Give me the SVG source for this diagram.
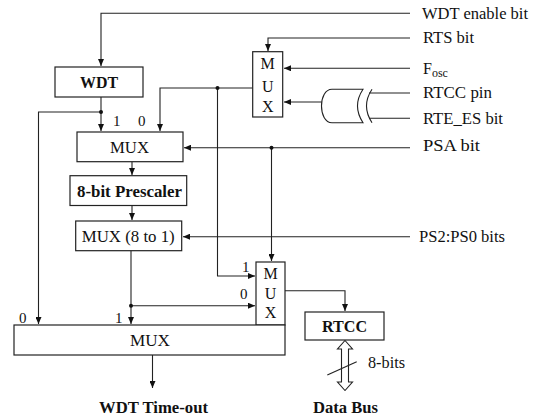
<svg xmlns="http://www.w3.org/2000/svg" width="535" height="416" viewBox="0 0 535 416">
<style>
  text { font-family: "Liberation Serif", "Times New Roman", serif; font-size: 16px; fill: #111; }
  .b { font-weight: bold; }
  .s { font-size: 15px; }
  .m { text-anchor: middle; }
  .box { fill: #fff; stroke: #222; stroke-width: 1.2; }
  .w { fill: none; stroke: #222; stroke-width: 1.1; }
  .dot { fill: #111; }
</style>
<defs>
  <marker id="ah" markerWidth="8" markerHeight="6" refX="7" refY="3" orient="auto" markerUnits="userSpaceOnUse">
    <path d="M0,0 L7,3 L0,6 Z" fill="#111"/>
  </marker>
</defs>
<rect width="535" height="416" fill="#fff"/>

<g id="connectors">
  <polyline class="w" points="410,13.3 101,13.3 101,66" marker-end="url(#ah)"/>
  <polyline class="w" points="101,97 101,131" marker-end="url(#ah)"/>
  <polyline class="w" points="101,112 38.5,112 38.5,324" marker-end="url(#ah)"/>
  <polyline class="w" points="252.7,88 160,88 160,131" marker-end="url(#ah)"/>
  <polyline class="w" points="217.5,88 217.5,276 255,276" marker-end="url(#ah)"/>
  <polyline class="w" points="410,147.7 184,147.7" marker-end="url(#ah)"/>
  <polyline class="w" points="271.5,147.7 271.5,261" marker-end="url(#ah)"/>
  <polyline class="w" points="410,38 268,38 268,51" marker-end="url(#ah)"/>
  <polyline class="w" points="410,68.3 284,68.3" marker-end="url(#ah)"/>
  <polyline class="w" points="321.7,102 284,102" marker-end="url(#ah)"/>
  <line class="w" x1="369" y1="93" x2="410" y2="93"/>
  <line class="w" x1="369" y1="118.3" x2="410" y2="118.3"/>
  <polyline class="w" points="132,161.7 132,175" marker-end="url(#ah)"/>
  <polyline class="w" points="132,205.5 132,220" marker-end="url(#ah)"/>
  <polyline class="w" points="410,236.7 183,236.7" marker-end="url(#ah)"/>
  <polyline class="w" points="131,250.7 131,324" marker-end="url(#ah)"/>
  <polyline class="w" points="131,305.7 255,305.7" marker-end="url(#ah)"/>
  <polyline class="w" points="285,290.7 345,290.7 345,311" marker-end="url(#ah)"/>
  <polyline class="w" points="152.5,355 152.5,388" marker-end="url(#ah)"/>
  <circle class="dot" cx="101" cy="112" r="2"/>
  <circle class="dot" cx="217.5" cy="88" r="2"/>
  <circle class="dot" cx="271.5" cy="147.7" r="2"/>
  <circle class="dot" cx="131" cy="305.7" r="2"/>
  <path class="w" d="M345,340.5 L352.5,349 L348.5,349 L348.5,382 L352.5,382 L345,390.5 L337.5,382 L341.5,382 L341.5,349 L337.5,349 Z"/>
  <line class="w" x1="327.3" y1="375" x2="356.7" y2="361.7"/>
</g>

<g id="gate">
  <path class="w" d="M363,89.3 L332,89.3 C318,89.3 318,122.7 332,122.7 L363,122.7 Q352,106 363,89.3 Z"/>
  <path class="w" d="M372,89.3 Q361,106 372,122.7"/>
</g>

<g id="wdt">
  <rect class="box" x="55" y="67" width="88" height="30"/>
  <text class="b" x="80" y="87.5" textLength="38" lengthAdjust="spacingAndGlyphs">WDT</text>
</g>
<g id="mux-top">
  <rect class="box" x="77" y="132" width="106" height="29.7"/>
  <text x="110" y="153" textLength="39" lengthAdjust="spacingAndGlyphs">MUX</text>
  <text class="s" x="113" y="126">1</text>
  <text class="s" x="138" y="126">0</text>
</g>
<g id="prescaler">
  <rect class="box" x="70" y="175.7" width="116.7" height="29.8"/>
  <text class="b" x="77" y="196.5" textLength="105" lengthAdjust="spacingAndGlyphs">8-bit Prescaler</text>
</g>
<g id="mux8">
  <rect class="box" x="75.7" y="221" width="106" height="29.7"/>
  <text x="81.7" y="241.5" textLength="93" lengthAdjust="spacingAndGlyphs">MUX (8 to 1)</text>
</g>
<g id="mux-small">
  <rect class="box" x="252.7" y="51.7" width="30" height="65.3"/>
  <text class="m" x="267.7" y="69">M</text>
  <text class="m" x="267.7" y="91.7">U</text>
  <text class="m" x="267.7" y="111.7">X</text>
</g>
<g id="mux2">
  <rect class="box" x="256" y="262" width="29" height="63"/>
  <text class="m" x="270.5" y="279">M</text>
  <text class="m" x="270.5" y="299">U</text>
  <text class="m" x="270.5" y="318">X</text>
  <text class="s" x="242" y="271.5">1</text>
  <text class="s" x="240" y="299">0</text>
</g>
<g id="mux-bottom">
  <rect class="box" x="14" y="325" width="271" height="30"/>
  <text x="130" y="346" textLength="40" lengthAdjust="spacingAndGlyphs">MUX</text>
  <text class="s" x="19" y="323">0</text>
  <text class="s" x="115" y="323">1</text>
</g>
<g id="rtcc">
  <rect class="box" x="305" y="312" width="79" height="28"/>
  <text class="b" x="322" y="331.5" textLength="45" lengthAdjust="spacingAndGlyphs">RTCC</text>
</g>

<g id="labels">
  <text x="422" y="19" textLength="106" lengthAdjust="spacingAndGlyphs">WDT enable bit</text>
  <text x="423" y="42.5" textLength="51" lengthAdjust="spacingAndGlyphs">RTS bit</text>
  <text x="423" y="74">F<tspan font-size="12" dy="3">osc</tspan></text>
  <text x="423" y="97.5" textLength="69" lengthAdjust="spacingAndGlyphs">RTCC pin</text>
  <text x="423" y="124" textLength="80" lengthAdjust="spacingAndGlyphs">RTE_ES bit</text>
  <text x="423" y="151" textLength="57" lengthAdjust="spacingAndGlyphs">PSA bit</text>
  <text x="419" y="241.5" textLength="86" lengthAdjust="spacingAndGlyphs">PS2:PS0 bits</text>
  <text x="368" y="368" textLength="37" lengthAdjust="spacingAndGlyphs">8-bits</text>
  <text class="b" x="99" y="413" textLength="109" lengthAdjust="spacingAndGlyphs">WDT Time-out</text>
  <text class="b" x="313" y="413" textLength="65" lengthAdjust="spacingAndGlyphs">Data Bus</text>
</g>
</svg>
